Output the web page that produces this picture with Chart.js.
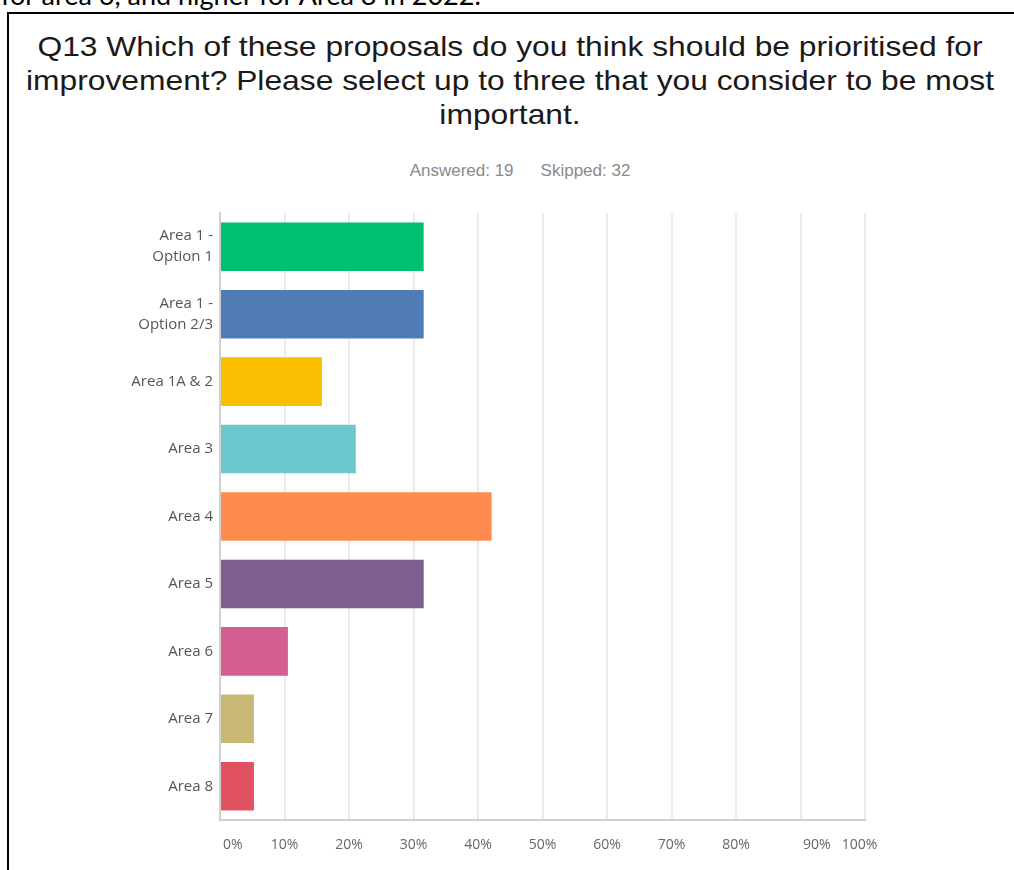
<!DOCTYPE html>
<html>
<head>
<meta charset="utf-8">
<script src="https://cdn.jsdelivr.net/npm/chart.js@4/dist/chart.umd.min.js"></script>
<style>
  html, body { margin: 0; padding: 0; background: #fff; }
  body { width: 1014px; height: 870px; position: relative; overflow: hidden; }
  .lead {
    position: absolute; left: 1px; top: -19px;
    font-family: Lato, "Open Sans", sans-serif; font-size: 27px; line-height: 27px;
    color: #000; white-space: nowrap;
  }
  .frame {
    position: absolute; left: 7px; top: 12px; right: -20px; bottom: -20px;
    border: 2px solid #000;
  }
  .title {
    position: absolute; left: 10px; width: 1000px; top: 30px;
    font-family: "Liberation Sans", Arial, sans-serif; font-size: 28px; line-height: 34px;
    color: #1a1a1a; text-align: center;
    transform: scaleX(1.135); transform-origin: 500px 0;
  }
  .meta {
    position: absolute; left: 0; width: 1040px; top: 161px; text-align: center;
    font-family: "Liberation Sans", Arial, sans-serif; font-size: 17px; color: #8a8a8a;
  }
  .meta span + span { margin-left: 27px; }
  #chart { position: absolute; left: 0; top: 0; }
</style>
</head>
<body>
<div class="lead">for area 6, and higher for Area 8 in 2022.</div>
<div class="frame"></div>
<div class="title">Q13 Which of these proposals do you think should be prioritised for<br>improvement? Please select up to three that you consider to be most<br>important.</div>
<div class="meta"><span id="answered"></span><span id="skipped"></span></div>
<canvas id="chart" width="1014" height="870"></canvas>
<script>
// Answer choices (multi-line labels split into arrays)
const categories = [
  ['Area 1 -', 'Option 1'],
  ['Area 1 -', 'Option 2/3'],
  'Area 1A & 2',
  'Area 3',
  'Area 4',
  'Area 5',
  'Area 6',
  'Area 7',
  'Area 8'
];
// Share of respondents choosing each option (%)
const percentages = [31.58, 31.58, 15.79, 21.05, 42.11, 31.58, 10.53, 5.26, 5.26];
const barColors = ['#00bf6f', '#507cb6', '#f9be00', '#6bc8cd', '#ff8b4f', '#7d5e90', '#d25f90', '#c9b775', '#e05260'];
const xTicks = [0, 10, 20, 30, 40, 50, 60, 70, 80, 90, 100];
const answered = 19;
const skipped = 32;

document.getElementById('answered').textContent = 'Answered: ' + answered;
document.getElementById('skipped').textContent = 'Skipped: ' + skipped;

// Edge labels sit slightly off their grid lines, nudged with padding spaces
function pctLabel(v) {
  const s = v + '%';
  if (v === 0) return '       ' + s;
  if (v === 90) return '         ' + s;
  if (v === 100) return s + '   ';
  return s;
}

new Chart(document.getElementById('chart'), {
  type: 'bar',
  data: {
    labels: categories,
    datasets: [{
      data: percentages,
      backgroundColor: barColors,
      borderWidth: 0,
      barPercentage: 0.72,
      categoryPercentage: 1
    }]
  },
  options: {
    indexAxis: 'y',
    responsive: false,
    animation: false,
    layout: { padding: { top: 213, right: 149, bottom: 0, left: 0 } },
    plugins: { legend: { display: false }, tooltip: { enabled: false }, title: { display: false } },
    scales: {
      x: {
        min: 0, max: 100,
        afterBuildTicks: (scale) => { scale.ticks = xTicks.map(v => ({ value: v })); },
        afterFit: (scale) => { scale.height = 50; },
        ticks: {
          callback: (v) => pctLabel(v),
          color: '#666',
          font: { family: '"Open Sans", Lato, sans-serif', size: 14 },
          padding: 17,
          maxRotation: 0,
          autoSkip: false
        },
        grid: { color: '#ebebeb', lineWidth: 2, drawTicks: false },
        border: { display: true, color: '#d0d0d0', width: 2 }
      },
      y: {
        afterFit: (scale) => { scale.width = 220; },
        ticks: { color: '#555', font: { family: '"Open Sans", Lato, sans-serif', size: 15, lineHeight: 1.4 }, padding: 7 },
        grid: { display: false, drawTicks: false },
        border: { display: true, color: '#d0d0d0', width: 2 }
      }
    }
  }
});
</script>
</body>
</html>
